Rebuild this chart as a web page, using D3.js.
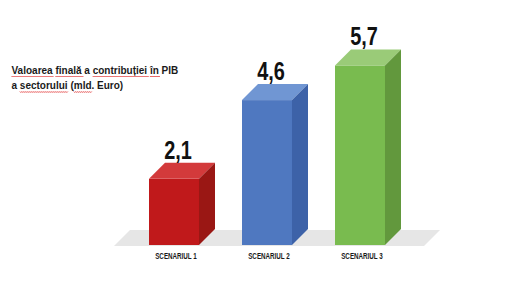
<!DOCTYPE html>
<html>
<head>
<meta charset="utf-8">
<script src="https://cdn.jsdelivr.net/npm/d3@7/dist/d3.min.js"></script>
<style>
  html, body { margin: 0; padding: 0; background: #ffffff; }
  svg { display: block; }
</style>
</head>
<body>
<div id="chart"></div>
<script>
// Data
const categories = ['SCENARIUL 1', 'SCENARIUL 2', 'SCENARIUL 3'];
const values = [2.1, 4.6, 5.7];
const valueLabels = ['2,1', '4,6', '5,7'];
const titleLines = ['Valoarea finală a contribuției în PIB', 'a sectorului (mld. Euro)'];

// front / top / side shades per bar
const palette = [
    { front: '#c0191b', top: '#d33a3b', side: '#9a1714' },
    { front: '#4f78c0', top: '#7096d3', side: '#3d62a8' },
    { front: '#79bb4f', top: '#9acb78', side: '#62983d' }
];

const width = 512, height = 298;
const depth = 16; // 3D offset of the boxes
const narrow = 'Liberation Sans, Arial, sans-serif';

const svg = d3.select('#chart').append('svg')
    .attr('width', width)
    .attr('height', height);

const x = d3.scaleBand()
    .domain(categories)
    .range([106, 428])
    .padding(0.4624);

const y = d3.scaleLinear()
    .domain([0, 6])
    .range([245, 56]);

const base = y(0);

// floor plate
svg.append('path')
    .attr('d', 'M' + (x.range()[0] + 8) + ',' + (base + 1) +
        'L' + (x.range()[0] + 8 + depth) + ',' + (base + 1 - depth) +
        'L' + (x.range()[1] + 12) + ',' + (base + 1 - depth) +
        'L' + (x.range()[1] - 4) + ',' + (base + 1) + 'Z')
    .attr('fill', '#e6e6e6');

const bars = svg.selectAll('g.bar')
    .data(values)
    .join('g')
    .attr('class', 'bar');

// front face
bars.append('rect')
    .attr('x', (d, i) => x(categories[i]))
    .attr('y', d => y(d))
    .attr('width', x.bandwidth())
    .attr('height', d => base - y(d))
    .attr('fill', (d, i) => palette[i].front);

// top face
bars.append('path')
    .attr('d', (d, i) => {
        const x0 = x(categories[i]), x1 = x0 + x.bandwidth(), t = y(d);
        return 'M' + x0 + ',' + t + 'L' + (x0 + depth) + ',' + (t - depth) +
            'L' + (x1 + depth) + ',' + (t - depth) + 'L' + x1 + ',' + t + 'Z';
    })
    .attr('fill', (d, i) => palette[i].top);

// side face
bars.append('path')
    .attr('d', (d, i) => {
        const x1 = x(categories[i]) + x.bandwidth(), t = y(d);
        return 'M' + x1 + ',' + t + 'L' + (x1 + depth) + ',' + (t - depth) +
            'L' + (x1 + depth) + ',' + (base - depth) + 'L' + x1 + ',' + base + 'Z';
    })
    .attr('fill', (d, i) => palette[i].side);

// value labels (condensed by a horizontal squeeze, no narrow font installed)
bars.append('text')
    .attr('transform', (d, i) =>
        'translate(' + (x(categories[i]) + x.bandwidth() / 2 + 4) + ',' + (y(d) - depth - 4) + ') scale(0.78,1)')
    .attr('text-anchor', 'middle')
    .attr('font-family', narrow)
    .attr('font-weight', 'bold')
    .attr('font-size', 25.5)
    .attr('fill', '#111111')
    .text((d, i) => valueLabels[i]);

// category labels
svg.selectAll('text.cat')
    .data(categories)
    .join('text')
    .attr('class', 'cat')
    .attr('transform', d => 'translate(' + (x(d) + x.bandwidth() / 2 + 2) + ',258.8) scale(0.66,1)')
    .attr('text-anchor', 'middle')
    .attr('font-family', narrow)
    .attr('font-weight', 'bold')
    .attr('font-size', 9.5)
    .attr('fill', '#1a1a1a')
    .text(d => d);

// title block
const title = svg.append('text')
    .attr('font-family', '"Liberation Sans", Arial, sans-serif')
    .attr('font-size', 10)
    .attr('font-weight', 'bold')
    .attr('fill', '#1a1a1a');

const lineY = [73.5, 89];
title.selectAll('tspan')
    .data(titleLines)
    .join('tspan')
    .attr('x', 11.5)
    .attr('y', (d, i) => lineY[i])
    .text(d => d);

// spellcheck squiggles under some words, as in the reference
const squiggle = [
    { line: 0, word: 'Valoarea' },
    { line: 0, word: 'finală' },
    { line: 0, word: 'contribuției' },
    { line: 0, word: 'în' },
    { line: 1, word: 'sectorului' },
    { line: 1, word: 'mld' }
];
const tspans = title.selectAll('tspan').nodes();
squiggle.forEach(function(s) {
    const node = tspans[s.line];
    const idx = titleLines[s.line].indexOf(s.word);
    const start = node.getStartPositionOfChar(idx).x;
    const len = node.getSubStringLength(idx, s.word.length);
    const yy = lineY[s.line] + 2.5;
    let d = 'M' + start + ',' + yy;
    for (let px = start; px < start + len; px += 2) {
        d += 'L' + (px + 1) + ',' + (yy + 1) + 'L' + (px + 2) + ',' + yy;
    }
    svg.append('path')
        .attr('d', d)
        .attr('fill', 'none')
        .attr('stroke', '#e03030')
        .attr('stroke-width', 0.8);
});
</script>
</body>
</html>
